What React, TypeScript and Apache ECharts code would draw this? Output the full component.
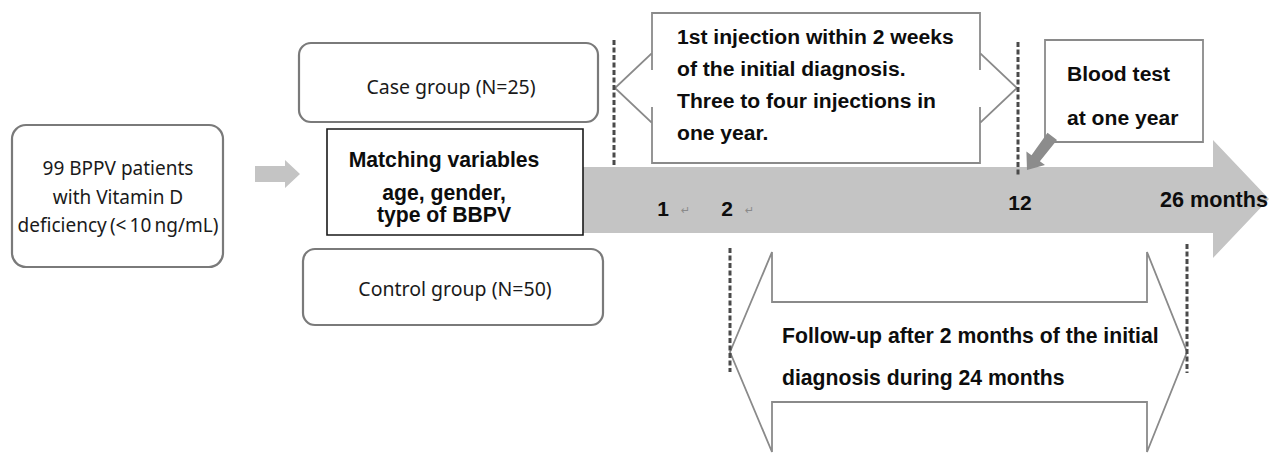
import React, { useEffect, useRef } from "react";
import * as echarts from "echarts";

const sourceLines = ["99 BPPV patients", "with Vitamin D", "deficiency\u2009(<\u200910\u2009ng/mL)"];
const caseLabel = "Case group (N=25)";
const controlLabel = "Control group (N=50)";
const matchingLines = ["Matching variables", "age, gender,", "type of BBPV"];
const injectionLines = [
  "1st injection within 2 weeks",
  "of the initial diagnosis.",
  "Three to four injections in",
  "one year.",
];
const bloodLines = ["Blood test", "at one year"];
const followLines = ["Follow-up after 2 months of the initial", "diagnosis during 24 months"];
const monthLabels = ["1", "2", "12", "26 months"];
const monthMarks = [true, true, false, false];

const REG = "'Noto Sans', 'Open Sans', sans-serif";
const BOLD = "Liberation Sans, Arial, sans-serif";

function txt(text: string, x: number, y: number, opts: any = {}) {
  const size = opts.size ?? 21;
  const weight = opts.weight ?? "bold";
  const family = opts.family ?? BOLD;
  return {
    type: "text",
    x,
    y,
    z: opts.z ?? 20,
    style: {
      text,
      font: `${weight} ${size}px ${family}`,
      fill: opts.fill ?? "#0d0d0d",
      align: opts.align ?? "left",
      verticalAlign: "middle",
      textAlign: opts.align ?? "left",
      textVerticalAlign: "middle",
    },
  };
}

export default function App() {
  const ref = useRef<HTMLDivElement>(null);
  useEffect(() => {
    document.body.style.margin = "0";
    const chart = echarts.init(ref.current!, null, { renderer: "svg" });
    const els: any[] = [];

    // big timeline arrow
    els.push({
      type: "polygon",
      z: 1,
      shape: {
        points: [
          [560, 167], [1213, 167], [1213, 140], [1269, 199], [1213, 258], [1213, 233], [560, 233],
        ],
      },
      style: { fill: "#c4c4c4", stroke: "none" },
    });

    // small arrow
    els.push({
      type: "polygon",
      z: 1,
      shape: { points: [[255, 166], [285, 166], [285, 160], [300, 174], [285, 188], [285, 182], [255, 182]] },
      style: { fill: "#c4c4c4" },
    });

    // source box
    els.push({
      type: "rect",
      z: 5,
      shape: { x: 12, y: 125, width: 211, height: 142, r: 14 },
      style: { fill: "#fff", stroke: "#7a7a7a", lineWidth: 2.2 },
    });
    sourceLines.forEach((l, i) =>
      els.push(txt(l, 118, 168 + i * 28.5, { weight: "normal", family: REG, size: 19, fill: "#1a1a1a", align: "center" }))
    );

    // case box
    els.push({
      type: "rect",
      z: 5,
      shape: { x: 299, y: 43, width: 299, height: 79, r: 12 },
      style: { fill: "#fff", stroke: "#7a7a7a", lineWidth: 2.2 },
    });
    els.push(txt(caseLabel, 451, 86, { weight: "normal", family: REG, size: 19.5, fill: "#1a1a1a", align: "center" }));

    // control box
    els.push({
      type: "rect",
      z: 5,
      shape: { x: 303, y: 249, width: 300, height: 76, r: 12 },
      style: { fill: "#fff", stroke: "#7a7a7a", lineWidth: 2.2 },
    });
    els.push(txt(controlLabel, 455, 288, { weight: "normal", family: REG, size: 19.5, fill: "#1a1a1a", align: "center" }));

    // matching box
    els.push({
      type: "rect",
      z: 5,
      shape: { x: 327, y: 129, width: 256, height: 106 },
      style: { fill: "#fff", stroke: "#1a1a1a", lineWidth: 1.6 },
    });
    const my = [159, 192, 214];
    matchingLines.forEach((l, i) => els.push(txt(l, 444, my[i], { align: "center", size: 21.2 })));

    // dashed lines
    const dashes = [
      [614, 40, 167],
      [1018, 42, 176],
      [730, 248, 372],
      [1187, 244, 373],
    ];
    dashes.forEach(([x, y1, y2]) =>
      els.push({
        type: "line",
        z: 12,
        shape: { x1: x, y1, x2: x, y2 },
        style: { stroke: "#4a4a4a", lineWidth: 3, lineDash: [5, 2.5] },
      })
    );

    // top callout
    els.push({
      type: "polygon",
      z: 8,
      shape: {
        points: [
          [652, 13], [980, 13], [980, 70], [980, 53], [1017, 88], [980, 123], [980, 107], [980, 163],
          [652, 163], [652, 107], [652, 123], [615, 88], [652, 53], [652, 70],
        ],
      },
      style: { fill: "#fff", stroke: "#8a8a8a", lineWidth: 1.8 },
    });
    injectionLines.forEach((l, i) => els.push(txt(l, 677, 36 + i * 32, { size: 21.1 })));

    // blood test box
    els.push({
      type: "rect",
      z: 8,
      shape: { x: 1045, y: 40, width: 158, height: 102 },
      style: { fill: "#fff", stroke: "#8a8a8a", lineWidth: 1.8 },
    });
    bloodLines.forEach((l, i) => els.push(txt(l, 1067, 73 + i * 44, { size: 21.1 })));
    els.push({
      type: "polygon",
      z: 9,
      shape: {
        points: [
          [1057, 140], [1039.9, 161.2], [1045, 165], [1027, 170], [1026.4, 151.4], [1031.5, 155.2], [1047.5, 132.8],
        ],
      },
      style: { fill: "#8c8c8c" },
    });

    // month labels
    const mx = [663, 727, 1020, 1214];
    const mY = [208, 208, 202, 199];
    monthLabels.forEach((l, i) => {
      els.push(txt(l, mx[i], mY[i], { align: "center", size: i === 3 ? 21.6 : 21 }));
      if (monthMarks[i]) {
        els.push(txt("\u21B5", mx[i] + 18, mY[i] + 2, { weight: "normal", family: "DejaVu Sans", size: 11, fill: "#8a8a8a" }));
      }
    });

    // bottom double arrow
    els.push({
      type: "polygon",
      z: 8,
      shape: {
        points: [
          [730, 352], [772, 252], [772, 302], [1147, 302], [1147, 252], [1187, 352], [1147, 452], [1147, 402],
          [772, 402], [772, 452],
        ],
      },
      style: { fill: "#fff", stroke: "#8a8a8a", lineWidth: 1.8 },
    });
    followLines.forEach((l, i) => els.push(txt(l, 782, 335 + i * 42, { size: 21.2 })));

    chart.setOption({
      animation: false,
      backgroundColor: "#fff",
      graphic: { elements: els },
    });
    return () => chart.dispose();
  }, []);
  return <div ref={ref} style={{ width: 1271, height: 454 }} />;
}
